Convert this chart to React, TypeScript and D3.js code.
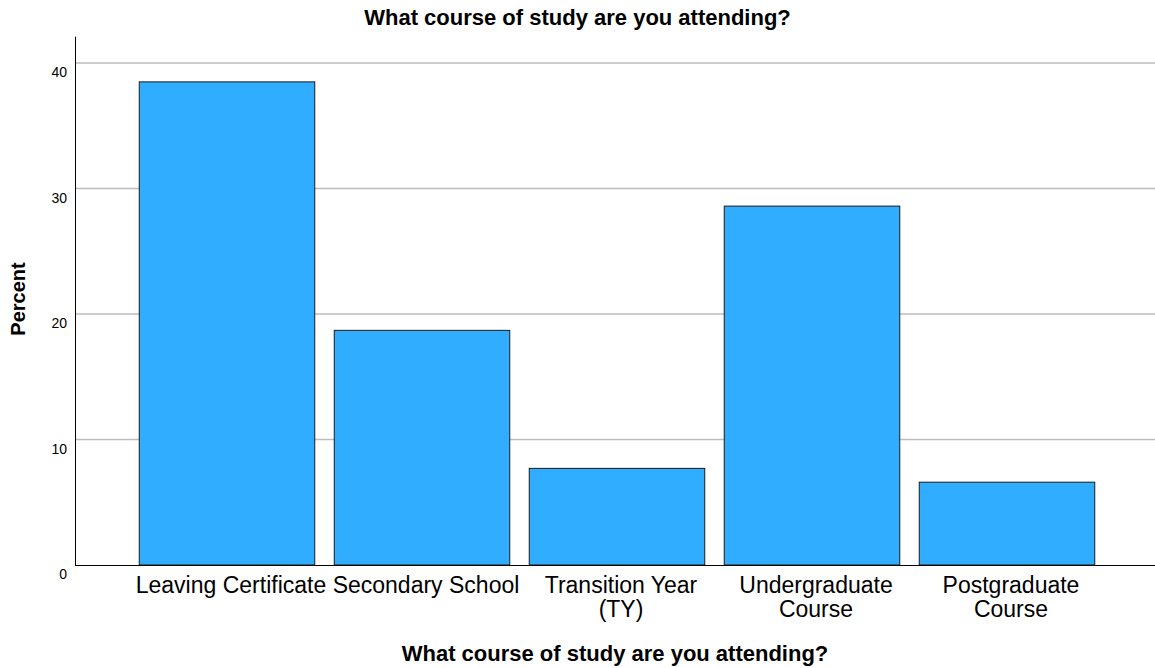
import * as d3 from 'd3';
import { useEffect, useRef } from 'react';

const categories = [
  'Leaving Certificate',
  'Secondary School',
  'Transition Year (TY)',
  'Undergraduate Course',
  'Postgraduate Course',
];
const percents = [38.5, 18.7, 7.7, 28.6, 6.6];
const yTicks = [0, 10, 20, 30, 40];

const title = 'What course of study are you attending?';
const xTitle = 'What course of study are you attending?';
const yTitle = 'Percent';

const width = 1155;
const height = 668;
const font = '"Liberation Sans", Arial, sans-serif';

export default function App() {
  const ref = useRef<SVGSVGElement>(null);

  useEffect(() => {
    const svg = d3.select(ref.current);
    svg.selectAll('*').remove();

    const plot = { left: 75, right: 1155, top: 36.7, bottom: 565 };

    const x = d3
      .scaleBand<string>()
      .domain(categories)
      .range([129.5, 1104.5])
      .paddingInner(0.1)
      .paddingOuter(0.05);
    const y = d3.scaleLinear().domain([0, 42.1]).range([plot.bottom, plot.top]);

    // title
    svg
      .append('text')
      .attr('x', width / 2)
      .attr('y', 25)
      .attr('text-anchor', 'middle')
      .attr('font-family', font)
      .attr('font-weight', 'bold')
      .attr('font-size', 22)
      .text(title);

    // grid lines
    svg
      .append('g')
      .selectAll('line')
      .data(yTicks.filter((t) => t > 0))
      .join('line')
      .attr('x1', plot.left)
      .attr('x2', plot.right)
      .attr('y1', (d) => y(d))
      .attr('y2', (d) => y(d))
      .attr('stroke', '#bdbdbd')
      .attr('stroke-width', 1.5);

    // bars
    svg
      .append('g')
      .selectAll('rect')
      .data(percents)
      .join('rect')
      .attr('x', (d, i) => x(categories[i]) as number)
      .attr('y', (d) => y(d))
      .attr('width', x.bandwidth())
      .attr('height', (d) => y(0) - y(d))
      .attr('fill', '#31adff')
      .attr('stroke', '#1a1a1a')
      .attr('stroke-width', 1);

    // axis lines
    svg
      .append('line')
      .attr('x1', plot.left + 0.5)
      .attr('x2', plot.left + 0.5)
      .attr('y1', plot.top)
      .attr('y2', plot.bottom)
      .attr('stroke', '#000')
      .attr('stroke-width', 1);
    svg
      .append('line')
      .attr('x1', plot.left)
      .attr('x2', plot.right)
      .attr('y1', plot.bottom + 0.5)
      .attr('y2', plot.bottom + 0.5)
      .attr('stroke', '#000')
      .attr('stroke-width', 1);

    // y tick labels
    svg
      .append('g')
      .selectAll('text')
      .data(yTicks)
      .join('text')
      .attr('x', 67)
      .attr('y', (d) => y(d) + 14)
      .attr('text-anchor', 'end')
      .attr('font-family', font)
      .attr('font-size', 14)
      .text((d) => d);

    // category labels, wrapped when wider than a band step
    const labels = svg
      .append('g')
      .selectAll('text')
      .data(categories)
      .join('text')
      .attr('text-anchor', 'middle')
      .attr('font-family', font)
      .attr('font-size', 23)
      .attr('y', 593);

    labels.each(function (d) {
      const text = d3.select(this);
      const cx = (x(d) as number) + x.bandwidth() / 2 + 4;
      text.text(d);
      const full = (this as SVGTextElement).getComputedTextLength();
      text.text('');
      const lines = full > x.step() ? d.split(/ (?=[^ ]+$)/) : [d];
      lines.forEach((line, i) => {
        text
          .append('tspan')
          .attr('x', cx)
          .attr('dy', i === 0 ? 0 : 24)
          .text(line);
      });
    });

    // x axis title
    svg
      .append('text')
      .attr('x', (plot.left + plot.right) / 2)
      .attr('y', 661)
      .attr('text-anchor', 'middle')
      .attr('font-family', font)
      .attr('font-weight', 'bold')
      .attr('font-size', 22)
      .text(xTitle);

    // y axis title
    svg
      .append('text')
      .attr('transform', 'translate(25,299) rotate(-90)')
      .attr('text-anchor', 'middle')
      .attr('font-family', font)
      .attr('font-weight', 'bold')
      .attr('font-size', 20)
      .text(yTitle);
  }, []);

  return (
    <svg
      ref={ref}
      width={width}
      height={height}
      style={{ position: 'absolute', left: 0, top: 0, background: '#fff' }}
    />
  );
}
